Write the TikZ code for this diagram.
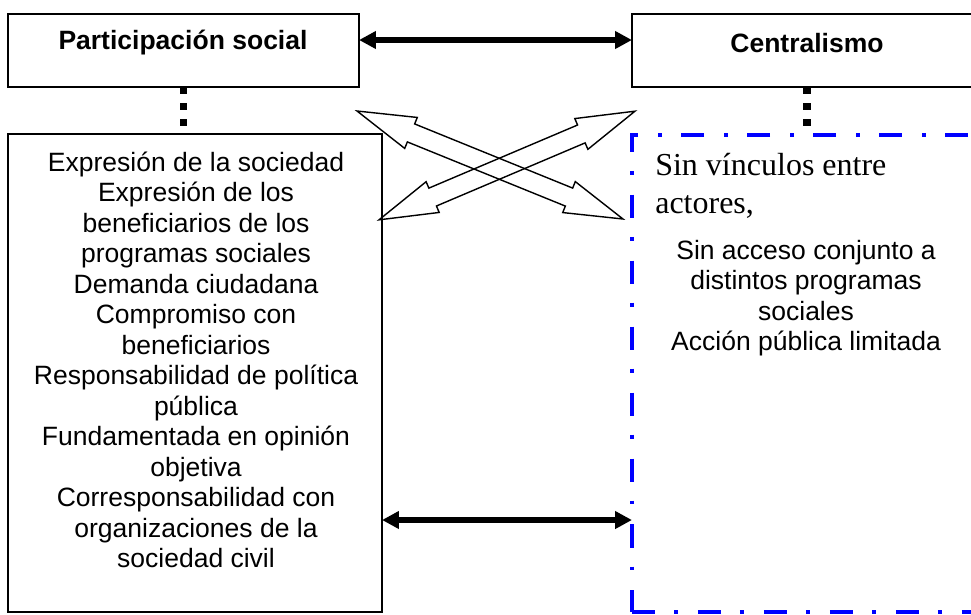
\documentclass[tikz,border=0pt]{standalone}
\usepackage{fontspec}
\setmainfont{Liberation Sans}
\newfontfamily\timesfont{Liberation Serif}
\usetikzlibrary{arrows.meta,shapes.arrows}

\tikzset{
  box/.style={draw, line width=1.2pt, outer sep=0pt, inner sep=0pt},
  bluebox/.style={draw=blue, line width=2.85pt, outer sep=0pt, inner sep=0pt,
    dash pattern=on 16.4pt off 13.5pt on 2.8pt off 14.2pt},
  dotline/.style={line width=5pt, dash pattern=on 5pt off 6.5pt},
  thickarrow/.style={line width=3.6pt,
    {Triangle[length=12pt,width=12pt]}-{Triangle[length=12pt,width=12pt]}},
  hollow/.style={double arrow, draw, line width=1pt, inner xsep=0pt, inner ysep=0.225cm,
    double arrow head extend=0.175cm, double arrow tip angle=32, minimum width=0pt},
  txt/.style={font=\fontsize{18.85}{21.7}\selectfont, align=center, inner sep=0pt},
  headtxt/.style={font=\fontsize{18.85}{21.7}\selectfont\bfseries, inner sep=0pt},
}

\begin{document}
\begin{tikzpicture}[x=0.025cm, y=-0.025cm]

\useasboundingbox (0,0) rectangle (971,614);
\clip (0,0) rectangle (971,614);

    % boxes
    \node[box, minimum width=8.775cm, minimum height=1.825cm] (part) at (183.5,50.5) {};
    \node[box, minimum width=8.75cm, minimum height=1.825cm] (centr) at (807,50.5) {};
    \node[box, minimum width=9.35cm, minimum height=11.95cm] (list) at (195,373) {};
    \node[bluebox, minimum width=8.95cm, minimum height=11.925cm] (blue) at (811,373.5) {};

    % titles
    \node[headtxt] (parttxt) at (183,43) {Participación social};
    \node[headtxt] (centrtxt) at (807,43) {Centralismo};

    % left list
    \node[txt] (listtxt) at (196,360) {Expresión de la sociedad\\
        Expresión de los\\ beneficiarios de los\\ programas sociales\\
        Demanda ciudadana\\ Compromiso con\\ beneficiarios\\
        Responsabilidad de política\\ pública\\ Fundamentada en opinión\\
        objetiva\\ Corresponsabilidad con\\ organizaciones de la\\ sociedad civil};

    % right list
    \node[inner sep=0pt, anchor=west, align=left,
          font=\timesfont\fontsize{22.76}{27}\selectfont] (vinc) at (655,186)
          {Sin vínculos entre\\ actores,};
    \node[txt] (acctxt) at (806,298) {Sin acceso conjunto a\\ distintos programas\\
        sociales\\ Acción pública limitada};

    % dotted links
    \draw[dotline] (part.south) -- (part.south |- list.north);
    \draw[dotline] (centr.south) -- (centr.south |- blue.north);

    % black arrows
    \coordinate (toprow) at (0,40);
    \coordinate (lowrow) at (0,520);
    \draw[thickarrow] (part.east |- toprow) -- (centr.west |- toprow);
    \draw[thickarrow] (list.east |- lowrow) -- (blue.west |- lowrow);

    % crossed arrows
    \node[hollow, minimum height=7.175cm, rotate=-22.1] (cross1) at (490,165) {};
    \node[hollow, minimum height=6.95cm, rotate=23] (cross2) at (507,165.5) {};

\end{tikzpicture}
\end{document}
